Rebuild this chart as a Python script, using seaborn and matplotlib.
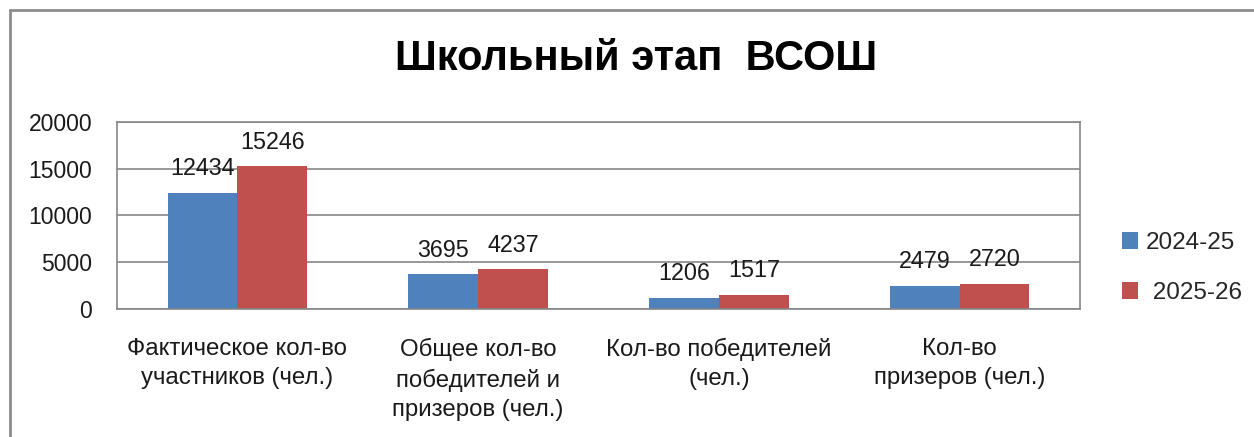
import matplotlib
matplotlib.use("Agg")
import matplotlib.pyplot as plt
import seaborn as sns
import pandas as pd
from matplotlib.lines import Line2D
from matplotlib.patches import Patch

categories = ["Фактическое кол-во\nучастников (чел.)",
              "Общее кол-во\nпобедителей и\nпризеров (чел.)",
              "Кол-во победителей\n(чел.)",
              "Кол-во\nпризеров (чел.)"]
series_names = ["2024-25", "2025-26"]
values_2024 = [12434, 3695, 1206, 2479]
values_2025 = [15246, 4237, 1517, 2720]
yticks = [0, 5000, 10000, 15000, 20000]
title = "Школьный этап  ВСОШ"

colors = ["#4F81BD", "#C0504D"]
grey = "#868686"

df = pd.DataFrame({
    "cat": categories * 2,
    "series": [series_names[0]] * 4 + [series_names[1]] * 4,
    "value": values_2024 + values_2025,
})

sns.set_theme(style="white")
plt.rcParams["font.family"] = ["Liberation Sans", "DejaVu Sans"]

fig = plt.figure(figsize=(12.54, 4.37), dpi=100)
ax = fig.add_axes([117/1254, 1-309/437, (1080-117)/1254, (309-122)/437])

sns.barplot(data=df, x="cat", y="value", hue="series", palette=colors,
            width=0.58, dodge=True, saturation=1, ax=ax, legend=False,
            errorbar=None, linewidth=0, order=categories, hue_order=series_names)

ax.set_ylim(0, 20000)
ax.set_xlim(-0.5, 3.5)
ax.set_yticks(yticks)
ax.set_yticklabels([str(t) for t in yticks], fontsize=16.5, color="#1a1a1a")
ax.tick_params(axis="y", length=0, pad=18)
ax.tick_params(axis="x", length=0, pad=21)
for lab in ax.get_xticklabels():
    lab.set_fontsize(17.3)
    lab.set_linespacing(1.42)
    lab.set_color("#1a1a1a")
    lab.set_verticalalignment("top")
ax.set_xlabel("")
ax.set_ylabel("")
ax.grid(axis="y", color=grey, linewidth=1.2)
ax.set_axisbelow(True)
for s in ax.spines.values():
    s.set_visible(True)
    s.set_color(grey)
    s.set_linewidth(1.2)

for container in ax.containers:
    ax.bar_label(container, labels=[str(int(v)) for v in container.datavalues],
                 padding=9, fontsize=16.8, color="#1a1a1a")

fig.text(0.507, 0.865, title, ha="center", va="center", fontsize=30,
         fontweight="bold", color="black")

handles = [Patch(facecolor=colors[0], edgecolor="none"),
           Patch(facecolor=colors[1], edgecolor="none")]
fig.legend(handles, ["2024-25", " 2025-26"], loc="center left",
           bbox_to_anchor=(1100/1254, 1-268/437), frameon=False,
           fontsize=17.5, handlelength=0.65, handleheight=0.65,
           handletextpad=0.35, labelspacing=1.15)

# outer frame
fig.add_artist(Line2D([10/1254, 10/1254], [0, 1-10/437], color="#8c8c8c",
                      linewidth=2, transform=fig.transFigure))
fig.add_artist(Line2D([10/1254, 1], [1-10/437, 1-10/437], color="#8c8c8c",
                      linewidth=2, transform=fig.transFigure))

fig.savefig("out.png", dpi=100, facecolor="white")
